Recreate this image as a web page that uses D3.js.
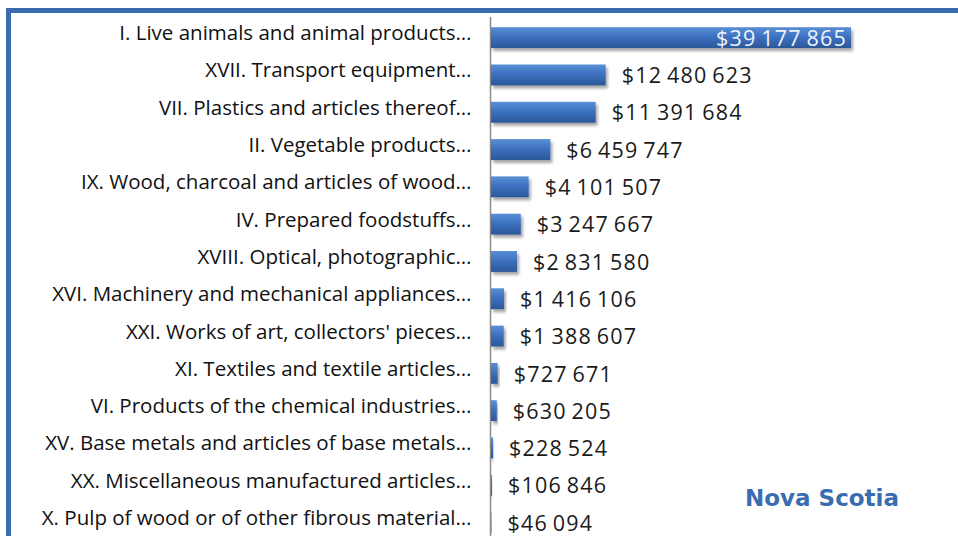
<!DOCTYPE html>
<html>
<head>
<meta charset="utf-8">
<script src="https://cdn.jsdelivr.net/npm/d3@7"></script>
<style>
  body { margin: 0; background: #fff; }
  svg { display: block; }
  .yAxis text { font-family: "Open Sans", sans-serif; font-size: 20.5px; fill: #111; }
</style>
</head>
<body>
<div id="container"></div>
<script>
/* CONSTANTS AND GLOBALS */
const width = 958,
  height = 536,
  margin = { top: 19, left: 491, right: 107 };

// categories, top to bottom
const categories = [
  "I. Live animals and animal products…",
  "XVII. Transport equipment…",
  "VII. Plastics and articles thereof…",
  "II. Vegetable products…",
  "IX. Wood, charcoal and articles of wood…",
  "IV.  Prepared foodstuffs…",
  "XVIII. Optical, photographic…",
  "XVI. Machinery and mechanical appliances…",
  "XXI. Works of art, collectors' pieces…",
  "XI. Textiles and textile articles…",
  "VI. Products of the chemical industries…",
  "XV. Base metals and articles of base metals…",
  "XX. Miscellaneous manufactured articles…",
  "X. Pulp of wood or of other fibrous material…"
];
const values = [39177865, 12480623, 11391684, 6459747, 4101507, 3247667, 2831580,
  1416106, 1388607, 727671, 630205, 228524, 106846, 46094];
const title = "Nova Scotia";

const data = categories.map((c, i) => ({ name: c, value: values[i] }));

// thin space as thousands separator
const locale = d3.formatLocale({ decimal: ".", thousands: "\u2009", grouping: [3], currency: ["$", ""] });
const formatMoney = locale.format("$,");

const svg = d3.select("#container")
  .append("svg")
  .attr("width", width)
  .attr("height", height);

const defs = svg.append("defs");
const grad = defs.append("linearGradient")
  .attr("id", "barGrad")
  .attr("x1", 0).attr("y1", 0).attr("x2", 0).attr("y2", 1);
grad.append("stop").attr("offset", "0%").attr("stop-color", "#5a8fd6");
grad.append("stop").attr("offset", "45%").attr("stop-color", "#3d72c2");
grad.append("stop").attr("offset", "100%").attr("stop-color", "#2b5797");

const shadow = defs.append("filter").attr("id", "shadow")
  .attr("x", "-10%").attr("y", "-30%").attr("width", "130%").attr("height", "180%");
shadow.append("feDropShadow")
  .attr("dx", 2).attr("dy", 3).attr("stdDeviation", 1.5)
  .attr("flood-color", "#000").attr("flood-opacity", 0.35);

// frame
svg.append("rect")
  .attr("x", 8.5).attr("y", 10.5)
  .attr("width", width + 20).attr("height", height + 20)
  .attr("fill", "none")
  .attr("stroke", "#3a6db0")
  .attr("stroke-width", 5);

// + SCALES
const yScale = d3.scaleBand()
  .domain(categories)
  .range([margin.top, margin.top + 37.3 * categories.length])
  .paddingInner(0.44)
  .paddingOuter(0.22);

const xScale = d3.scaleLinear()
  .domain([0, d3.max(values)])
  .range([margin.left, width - margin.right]);

// + AXES
const yAxis = d3.axisLeft(yScale)
  .tickSize(0)
  .tickPadding(19);

const yAxisGroup = svg.append("g")
  .attr("class", "yAxis")
  .attr("transform", `translate(${margin.left - 0.5}, 0)`)
  .call(yAxis);
yAxisGroup.select(".domain")
  .attr("stroke", "#8c8c8c")
  .attr("stroke-width", 1.5)
  .attr("d", `M0,${17}V${height}`);
yAxisGroup.selectAll(".tick text").attr("dy", "0.12em");

// + BARS
svg.selectAll("rect.bar")
  .data(data)
  .join("rect")
  .attr("class", "bar")
  .attr("x", xScale(0))
  .attr("y", d => yScale(d.name))
  .attr("width", d => xScale(d.value) - xScale(0))
  .attr("height", yScale.bandwidth())
  .attr("fill", "url(#barGrad)")
  .attr("filter", "url(#shadow)");

// + VALUE LABELS
svg.selectAll("text.val")
  .data(data)
  .join("text")
  .attr("class", "val")
  .attr("x", (d, i) => i === 0 ? xScale(d.value) - 4 : xScale(d.value) + 16)
  .attr("y", d => yScale(d.name) + yScale.bandwidth() / 2)
  .attr("dy", "0.38em")
  .attr("text-anchor", (d, i) => i === 0 ? "end" : "start")
  .attr("font-family", "'Open Sans', sans-serif")
  .attr("font-size", "21.5px")
  .attr("letter-spacing", "1.2px")
  .attr("fill", (d, i) => i === 0 ? "#eef3fb" : "#1a1a1a")
  .text(d => formatMoney(d.value));

// + TITLE
svg.append("text")
  .attr("x", 745)
  .attr("y", 506)
  .attr("font-family", "'DejaVu Sans', sans-serif")
  .attr("font-weight", "bold")
  .attr("font-size", "23px")
  .attr("fill", "#3a6db0")
  .text(title);
</script>
</body>
</html>
